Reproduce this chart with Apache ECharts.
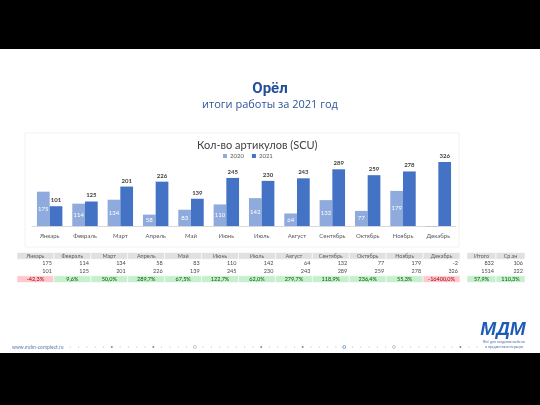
<!DOCTYPE html>
<html><head><meta charset="utf-8">
<script src="https://cdn.jsdelivr.net/npm/echarts@6/dist/echarts.min.js"></script>
<style>html,body{margin:0;padding:0;background:#000}#c{width:540px;height:405px}</style>
</head><body><div id="c"></div>
<script>
const months = ['Январь','Февраль','Март','Апрель','Май','Июнь','Июль','Август','Сентябрь','Октябрь','Ноябрь','Декабрь'];
const seriesNames = ['2020','2021'];
const v2020 = [175,114,134,58,83,110,142,64,132,77,179,-2];
const v2021 = [101,125,201,226,139,245,230,243,289,259,278,326];
const pctLabels = ['-42,3%','9,6%','50,0%','289,7%','67,5%','122,7%','62,0%','279,7%','118,9%','236,4%','55,3%','-16400,0%'];
const totalHeaders = ['Итого','Ср.зн'];
const total2020 = [832,106];
const total2021 = [1514,222];
const totalPct = ['57,9%','110,3%'];
const tableRows = ['header','2020','2021','pct'];

const FONT = 'Lato, "Noto Sans", sans-serif';

function tableRender(headers, r2020, r2021, pct){
  return function(params, api){
    const col = api.value(0), row = api.value(1);
    const c = api.coord([col,row]); const s = api.size([1,1]);
    const x = c[0]-s[0]/2, y = c[1]-s[1]/2, w = s[0], h = s[1];
    let fill = null, text, color = '#4a4a4a', align = 'right', tx = x + w - 2;
    if (row === 0) { fill = '#e0e0e0'; text = headers[col]; color = '#606060'; align = 'center'; tx = c[0]; }
    else if (row === 1) { text = String(r2020[col]); }
    else if (row === 2) { text = String(r2021[col]); }
    else {
      const neg = pct[col].charAt(0) === '-';
      fill = neg ? '#ffc7ce' : '#c6efce'; color = neg ? '#9c0006' : '#006100';
      text = pct[col]; align = 'center'; tx = c[0];
    }
    const children = [];
    if (fill) children.push({type:'rect', shape:{x:x, y:y+0.5, width:w, height:h-1}, style:{fill:fill, stroke:'#fff', lineWidth:0.6}});
    children.push({type:'text', style:{x:tx, y:c[1], text:text, align:align, verticalAlign:'middle', fill:color, fontSize:5.5, fontFamily:FONT}});
    return {type:'group', children:children};
  };
}
function cells(nCols){
  const out = [];
  for (let i = 0; i < nCols; i++) for (let r = 0; r < tableRows.length; r++) out.push([i, r]);
  return out;
}

// decorative dotted footer line
const dots = [];
for (let i = 0; i <= 50; i++) {
  const x = 62 + i * 8.3;
  const big = (i === 16 || i === 34 || i === 40);
  const dark = (i === 6 || i === 11 || i === 24 || i === 29 || i === 48);
  if (big) dots.push({type:'circle', shape:{cx:x, cy:347, r:1.5}, style:{fill:'#fff', stroke: i===34 ? '#6f8fc0' : '#b8b8b8', lineWidth:0.8}});
  else dots.push({type:'circle', shape:{cx:x, cy:347, r: dark ? 1 : 0.6}, style:{fill: dark ? '#7a8fa8' : '#b5b5b5'}});
}

const chart = echarts.init(document.getElementById('c'), null, {renderer:'canvas'});
chart.setOption({
  backgroundColor: '#000',
  animation: false,
  title: [
    {text:'Орёл', subtext:'итоги работы за 2021 год', left:'center', top:77, itemGap:2,
     textStyle:{fontSize:15, fontWeight:'bold', color:'#1f4e9a', fontFamily:'Roboto, "Noto Sans", sans-serif'},
     subtextStyle:{fontSize:11, color:'#2f5597', fontFamily:'"Open Sans", "Noto Sans", sans-serif'}},
    {text:'Кол-во артикулов (SCU)', left:192, top:135,
     textStyle:{fontSize:11, fontWeight:'normal', color:'#404040', fontFamily:FONT}}
  ],
  legend: {data:seriesNames, left:218, top:148, itemWidth:4, itemHeight:4, itemGap:8, icon:'rect',
    textStyle:{fontSize:6, color:'#595959', fontFamily:FONT, padding:[0,0,0,-2]}},
  graphic: [
    {type:'rect', z:-10, shape:{x:0, y:49, width:540, height:304}, style:{fill:'#fff'}},
    {type:'rect', z:-9, shape:{x:25, y:133, width:434, height:114}, style:{fill:'#fff', stroke:'#f2f2f2', lineWidth:1}},
    {type:'text', style:{x:12, y:347, text:'www.mdm-complect.ru', fontSize:5, fill:'#5b7db5', fontFamily:FONT, verticalAlign:'middle'}},
    {type:'group', children:dots},
    {type:'text', style:{x:503, y:330, text:'МДМ', fontSize:19, fontStyle:'italic', fontWeight:'bold', fill:'#1e5bb5', fontFamily:'"Liberation Sans", Arial, sans-serif', align:'center', verticalAlign:'middle'}},
    {type:'text', style:{x:504, y:342, text:'Всё для создания мебели', fontSize:3.5, fill:'#4a6fa8', fontFamily:FONT, align:'center', verticalAlign:'middle'}},
    {type:'text', style:{x:504, y:347, text:'и предметов интерьера', fontSize:3.5, fill:'#4a6fa8', fontFamily:FONT, align:'center', verticalAlign:'middle'}}
  ],
  grid: [
    {left:32, width:424, top:147.5, height:80.5},
    {left:17, width:443, top:252, height:31},
    {left:467, width:58, top:252, height:31}
  ],
  xAxis: [
    {gridIndex:0, type:'category', data:months, axisTick:{show:false},
     axisLine:{lineStyle:{color:'#d9d9d9', width:1}},
     axisLabel:{fontSize:6, color:'#595959', margin:5, interval:0, fontFamily:FONT}},
    {gridIndex:1, type:'category', data:months, show:false},
    {gridIndex:2, type:'category', data:totalHeaders, show:false}
  ],
  yAxis: [
    {gridIndex:0, type:'value', min:-10, max:400, show:false, splitLine:{show:false}},
    {gridIndex:1, type:'category', data:tableRows, inverse:true, show:false},
    {gridIndex:2, type:'category', data:tableRows, inverse:true, show:false}
  ],
  series: [
    {name:seriesNames[0], type:'bar', xAxisIndex:0, yAxisIndex:0, data:v2020,
     barGap:'0%', barCategoryGap:'28%', itemStyle:{color:'#8faadc'},
     label:{show:true, position:'inside', color:'#fff', fontSize:6, fontFamily:FONT,
       formatter:p => p.value < 0 ? '' : String(p.value)}},
    {name:seriesNames[1], type:'bar', xAxisIndex:0, yAxisIndex:0, data:v2021,
     barGap:'0%', barCategoryGap:'28%', itemStyle:{color:'#4472c4'},
     label:{show:true, position:'top', distance:3, color:'#404040', fontSize:6, fontWeight:'bold', fontFamily:FONT}},
    {type:'custom', xAxisIndex:1, yAxisIndex:1, data:cells(months.length),
     renderItem:tableRender(months, v2020, v2021, pctLabels)},
    {type:'custom', xAxisIndex:2, yAxisIndex:2, data:cells(totalHeaders.length),
     renderItem:tableRender(totalHeaders, total2020, total2021, totalPct)}
  ]
});
</script>
</body></html>
